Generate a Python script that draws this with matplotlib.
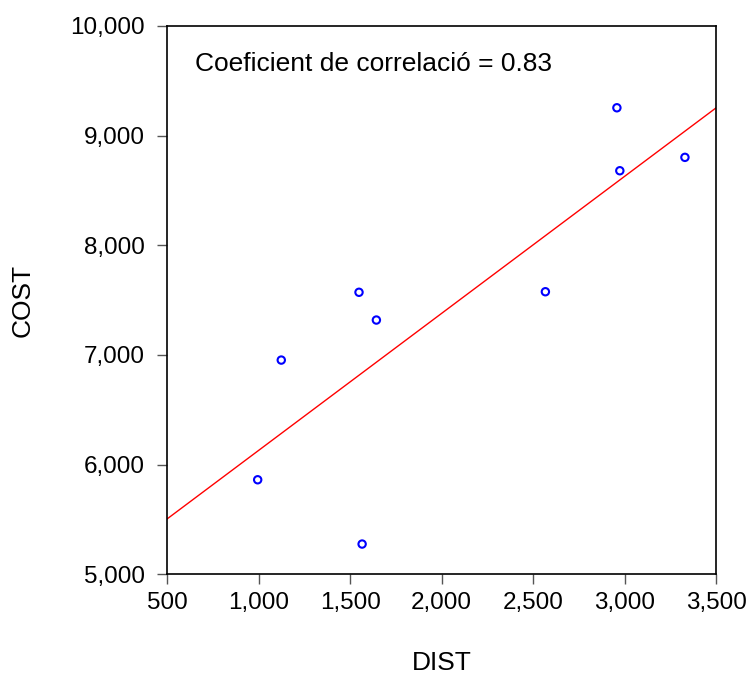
import numpy as np
import matplotlib
matplotlib.use("Agg")
import matplotlib.pyplot as plt
from matplotlib.ticker import FuncFormatter

dist = [994, 1123, 1548, 1565, 1643, 2567, 2958, 2974, 3330]
cost = [5862, 6953, 7571, 5276, 7318, 7576, 9253, 8679, 8801]
x_ticks = [500, 1000, 1500, 2000, 2500, 3000, 3500]
y_ticks = [5000, 6000, 7000, 8000, 9000, 10000]
annotation = "Coeficient de correlació = 0.83"

plt.rcParams['font.family'] = ['Liberation Sans', 'DejaVu Sans']

fig = plt.figure(figsize=(7.5, 6.76), dpi=100)
ax = fig.add_axes([0.2231, 0.1504, 0.7316, 0.8114])

x = np.array(dist, dtype=float)
y = np.array(cost, dtype=float)
slope, intercept = np.polyfit(x, y, 1)
xl = np.array([x_ticks[0], x_ticks[-1]], dtype=float)
ax.plot(xl, intercept + slope * xl, color='red', lw=1.0, zorder=2)
ax.scatter(x, y, s=28, facecolors='none', edgecolors='blue', linewidths=1.5, zorder=3)

ax.set_xlim(x_ticks[0], x_ticks[-1])
ax.set_ylim(y_ticks[0], y_ticks[-1])
ax.set_xticks(x_ticks)
ax.set_yticks(y_ticks)
fmt = FuncFormatter(lambda v, p: f"{int(v):,}")
ax.xaxis.set_major_formatter(fmt)
ax.yaxis.set_major_formatter(fmt)
ax.tick_params(direction='out', length=7, width=1, labelsize=17.5, color='#555555')
ax.tick_params(axis='x', pad=6)
ax.tick_params(axis='y', pad=9)
for s in ax.spines.values():
    s.set_linewidth(1.2)
    s.set_color('black')

ax.set_xlabel('DIST', fontsize=19)
ax.set_ylabel('COST', fontsize=19)
ax.xaxis.label.set_va('center')
ax.yaxis.label.set_va('center')
ax.xaxis.set_label_coords(0.5, -0.1617)
ax.yaxis.set_label_coords(-0.264, 0.5)
ax.text(0.05, 0.931, annotation, transform=ax.transAxes, fontsize=19,
        va='center', ha='left')

fig.savefig('out.png', dpi=100)
